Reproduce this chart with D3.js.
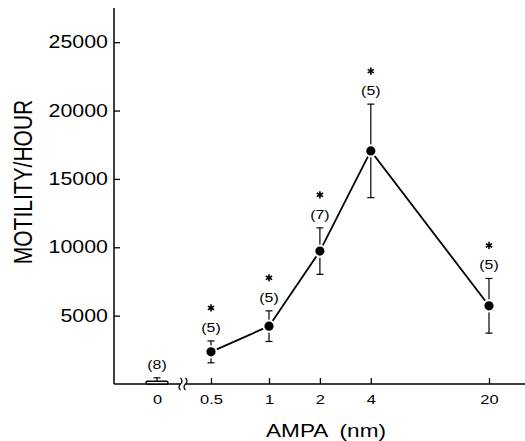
<html>
<head>
<title>AMPA motility</title>
<script src="https://d3js.org/d3.v7.min.js"></script>
<style>
  body { margin: 0; background: #fff; }
  text { font-family: "Liberation Sans", Arial, sans-serif; fill: #000; }
</style>
</head>
<body>
<svg width="525" height="441"></svg>
<script>

// values
var doses = ["0", "0.5", "1", "2", "4", "20"];
var means = [200, 2350, 4230, 9720, 17050, 5720];
var sems = [250, 800, 1120, 1700, 3420, 2000];
var counts = [8, 5, 5, 7, 5, 5];
var starred = [false, true, true, true, true, true];
var yTicks = [5000, 10000, 15000, 20000, 25000];

var data = doses.map(function(d, i) {
    return { dose: d, mean: means[i], sem: sems[i], n: counts[i], star: starred[i] };
});

var svg = d3.select("svg");
var stretch = 1.22;   // the printed figure is a bit wider than tall

var y = d3.scaleLinear().domain([0, 27500]).range([384, 8]);

// log spacing for the non-zero doses, zero sits on its own before the break
var logX = d3.scaleLog().base(2).domain([0.5, 1, 20]).range([211, 269, 489]);
var zeroX = 157;
var x = d3.scaleOrdinal()
    .domain(doses)
    .range(doses.map(function(d) { return +d === 0 ? zeroX : logX(+d); }));

// y axis
var yAxis = svg.append("g")
    .attr("transform", "translate(114,0)")
    .call(d3.axisLeft(y).tickValues(yTicks).tickFormat(d3.format("d"))
        .tickSizeInner(-6).tickSizeOuter(0).tickPadding(5));
yAxis.select(".domain").remove();
yAxis.selectAll("line").attr("stroke-width", 1.3);
yAxis.selectAll("text")
    .attr("font-size", 17.5)
    .attr("font-family", "'Liberation Sans', Arial, sans-serif")
    .attr("transform", "scale(" + stretch + ",1)");
svg.append("line")
    .attr("x1", 114).attr("x2", 114)
    .attr("y1", y.range()[1]).attr("y2", y(0))
    .attr("stroke", "#000").attr("stroke-width", 1.5);

// x axis
var xAxis = svg.append("g")
    .attr("transform", "translate(0," + y(0) + ")")
    .call(d3.axisBottom(x).tickSizeInner(-6).tickSizeOuter(0).tickPadding(10));
xAxis.select(".domain").remove();
xAxis.selectAll("line")
    .attr("stroke-width", 1.3)
    .attr("opacity", function(d) { return +d === 0 ? 0 : 1; });
xAxis.selectAll("text")
    .attr("font-size", 13.5)
    .attr("font-family", "'Liberation Sans', Arial, sans-serif")
    .attr("transform", "scale(" + stretch + ",1)");
svg.append("line")
    .attr("x1", 114).attr("x2", 525)
    .attr("y1", y(0)).attr("y2", y(0))
    .attr("stroke", "#000").attr("stroke-width", 1.5);

// axis break between 0 and 0.5
var bx = (zeroX + logX(0.5)) / 2 - 1;
svg.append("rect")
    .attr("x", bx - 3).attr("y", y(0) - 2).attr("width", 6).attr("height", 4)
    .attr("fill", "#fff");
[-2.5, 2.5].forEach(function(off) {
    svg.append("path")
        .attr("d", "M" + (bx + off) + "," + (y(0) - 6) + " q 3,3 0,6 q -3,3 0,6")
        .attr("fill", "none").attr("stroke", "#000").attr("stroke-width", 1.2);
});

// axis titles
svg.append("g")
    .attr("transform", "translate(32,182) scale(" + stretch + ",1) rotate(-90)")
    .append("text")
    .attr("text-anchor", "middle")
    .attr("font-size", 21)
    .text("MOTILITY/HOUR");

svg.append("g")
    .attr("transform", "translate(326,437) scale(" + stretch + ",1)")
    .append("text")
    .attr("text-anchor", "middle")
    .attr("font-size", 18.5)
    .attr("xml:space", "preserve")
    .style("white-space", "pre")
    .text("AMPA  (nm)");

var plot = svg.append("g");

// connecting line (zero dose not joined)
var joined = data.filter(function(d) { return +d.dose > 0; });
plot.append("path")
    .datum(joined)
    .attr("fill", "none")
    .attr("stroke", "#000")
    .attr("stroke-width", 1.8)
    .attr("d", d3.line().x(function(d) { return x(d.dose); }).y(function(d) { return y(d.mean); }));

// error bars
var err = plot.selectAll(".err").data(data).enter().append("g").attr("class", "err");
err.append("line")
    .attr("x1", function(d) { return x(d.dose); })
    .attr("x2", function(d) { return x(d.dose); })
    .attr("y1", function(d) { return y(+d.dose === 0 ? d.mean : d.mean - d.sem); })
    .attr("y2", function(d) { return y(d.mean + d.sem); })
    .attr("stroke", "#000").attr("stroke-width", 1.2);
err.selectAll(".cap")
    .data(function(d) {
        var v = +d.dose === 0 ? [d.mean + d.sem] : [d.mean + d.sem, d.mean - d.sem];
        return v.map(function(val) { return { dose: d.dose, val: val }; });
    })
    .enter().append("line")
    .attr("class", "cap")
    .attr("x1", function(d) { return x(d.dose) - 3.5; })
    .attr("x2", function(d) { return x(d.dose) + 3.5; })
    .attr("y1", function(d) { return y(d.val); })
    .attr("y2", function(d) { return y(d.val); })
    .attr("stroke", "#000").attr("stroke-width", 1.2);

// zero dose drawn as a small open bar
var zero = data.filter(function(d) { return +d.dose === 0; });
plot.selectAll(".zbar").data(zero).enter().append("rect")
    .attr("class", "zbar")
    .attr("x", function(d) { return x(d.dose) - 11; })
    .attr("y", function(d) { return y(d.mean); })
    .attr("width", 22)
    .attr("height", function(d) { return y(0) - y(d.mean); })
    .attr("rx", 1.5)
    .attr("fill", "#fff").attr("stroke", "#000").attr("stroke-width", 1.4);

// filled markers with a white rim so the line stops short of them
plot.selectAll(".dot").data(joined).enter().append("circle")
    .attr("class", "dot")
    .attr("cx", function(d) { return x(d.dose); })
    .attr("cy", function(d) { return y(d.mean); })
    .attr("r", 5.6)
    .attr("fill", "#000")
    .attr("stroke", "#fff").attr("stroke-width", 2);

// n labels and stars
var lab = plot.selectAll(".lab").data(data).enter().append("g")
    .attr("class", "lab")
    .attr("transform", function(d) {
        return "translate(" + x(d.dose) + "," + (y(d.mean + d.sem) - 14) + ")";
    });
lab.append("text")
    .attr("transform", "scale(" + stretch + ",1)")
    .attr("text-anchor", "middle")
    .attr("dy", "0.36em")
    .attr("font-size", 13)
    .text(function(d) { return "(" + d.n + ")"; });

lab.filter(function(d) { return d.star; }).append("path")
    .attr("transform", "translate(0,-19)")
    .attr("d", function() {
        var p = d3.path(), r = 3.6;
        [90, 30, 150].forEach(function(a) {
            var t = a * Math.PI / 180;
            p.moveTo(-r * Math.cos(t), -r * Math.sin(t));
            p.lineTo(r * Math.cos(t), r * Math.sin(t));
        });
        return p.toString();
    })
    .attr("stroke", "#000").attr("stroke-width", 1.6).attr("fill", "none");

</script>
</body>
</html>
